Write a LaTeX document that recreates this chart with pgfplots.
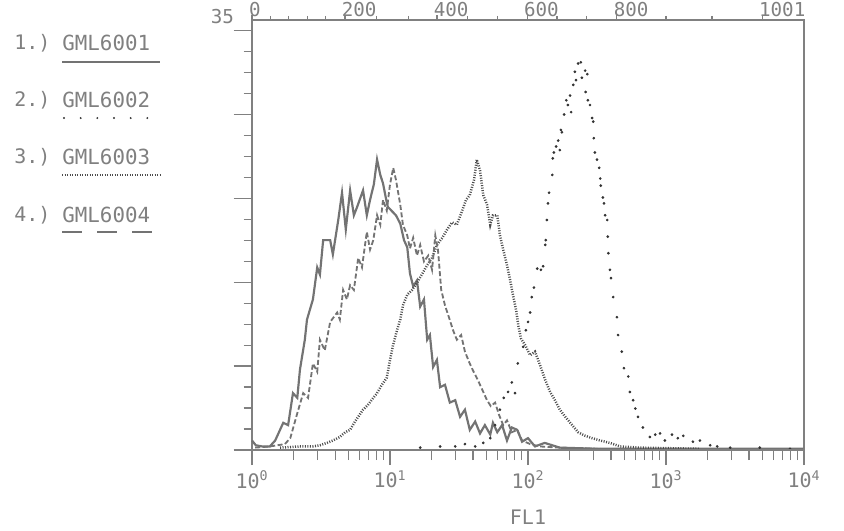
\documentclass[border=0pt]{standalone}
\usepackage{fontspec}
\setmainfont{DejaVu Sans Mono}
\usepackage{pgfplots}
\usepackage{pgfplotstable}
\pgfplotsset{compat=1.18}
\definecolor{ink}{gray}{0.5}
\definecolor{trace}{gray}{0.45}

% FL1 histograms, x = channel (0-1023), y = events
\pgfplotstableread{
ch cnt
0 0.8
7 0.4
19 0.3
33 0.3
43 0.8
58 2.3
67 2.1
76 4.8
84 4.4
89 6.8
98 9.3
102 11.0
113 12.7
121 15.4
126 14.8
132 17.7
145 17.7
150 16.5
160 19.4
167 21.7
174 18.6
182 21.9
189 19.8
195 20.5
206 21.9
213 19.8
219 21.1
226 22.4
232 24.5
238 23.2
243 22.5
249 21.1
252 20.5
267 19.8
275 19.1
282 17.7
288 17.1
293 14.9
299 13.8
306 14.3
312 12.1
319 12.7
325 9.3
330 9.7
336 7.0
343 7.6
349 5.3
358 5.5
367 4.0
377 4.2
386 2.8
395 3.4
404 1.7
414 2.4
423 1.4
432 2.1
442 1.3
447 2.3
455 1.5
464 2.1
473 0.8
482 1.9
492 1.7
501 0.7
512 1.0
525 0.3
543 0.6
571 0.2
646 0.1
831 0.1
1023 0.1
}\gmlA

\pgfplotstableread{
ch cnt
312 0.2
349 0.3
377 0.3
395 0.5
414 0.3
429 0.6
442 1.0
451 2.1
460 3.4
467 4.4
475 4.9
482 5.7
488 4.8
493 7.3
503 8.7
508 10.1
512 10.8
516 11.6
519 12.9
523 13.7
529 15.3
536 15.2
540 15.5
544 17.3
545 17.7
547 19.4
549 20.8
551 21.7
557 23.2
558 24.6
560 25.1
564 25.6
568 26.1
571 25.3
573 27.0
575 26.8
579 28.3
583 29.5
586 29.1
590 29.9
592 28.5
596 30.8
599 31.9
601 31.2
605 32.6
610 32.7
612 31.4
618 32.0
619 30.2
622 31.7
623 29.5
627 29.1
631 28.0
633 27.7
634 26.3
636 25.1
640 24.5
644 23.8
646 22.9
647 22.3
651 21.3
653 20.8
655 19.8
659 19.4
660 18.0
661 16.6
664 15.2
666 14.5
670 12.9
677 11.2
679 9.7
686 8.3
690 6.9
698 6.2
701 4.9
707 4.2
711 3.5
716 2.8
725 1.9
738 1.1
748 1.3
757 1.4
766 0.8
779 1.3
790 1.0
800 1.2
818 0.7
831 0.8
850 0.4
863 0.3
887 0.2
942 0.2
998 0.1
}\gmlB

\pgfplotstableread{
ch cnt
52 0.2
89 0.3
113 0.3
126 0.4
139 0.6
150 0.8
163 1.1
173 1.5
182 1.7
191 2.4
200 3.0
206 3.4
215 3.8
225 4.4
232 4.8
241 5.5
250 6.1
256 7.6
262 8.9
269 10.1
275 11.0
280 12.2
288 13.1
297 13.5
306 14.1
315 14.8
325 15.6
334 16.2
343 17.3
353 17.9
362 18.6
371 19.2
380 19.0
390 20.2
397 21.1
404 21.5
412 22.8
417 24.5
423 23.6
429 21.5
436 20.7
442 19.0
447 19.8
455 19.8
460 18.1
466 16.9
473 15.6
479 14.3
484 13.1
490 11.8
494 10.5
499 9.4
506 8.9
516 8.0
525 8.3
534 7.2
544 5.9
553 4.9
562 4.2
571 3.4
583 2.7
594 2.1
605 1.5
618 1.2
631 1.0
646 0.8
664 0.6
683 0.3
720 0.2
831 0.1
}\gmlC

\pgfplotstableread{
ch cnt
6 0.2
33 0.3
61 0.5
71 1.0
84 3.1
95 4.8
104 4.4
113 7.3
121 6.6
126 9.3
135 8.4
145 10.8
158 11.6
163 11.0
169 13.5
176 12.7
182 13.9
189 13.5
197 16.2
204 15.4
213 18.4
219 16.9
225 17.7
232 19.8
238 19.0
243 21.1
250 20.2
256 22.4
262 23.8
267 22.8
275 20.7
280 19.0
288 18.1
293 17.0
299 17.9
306 16.4
312 17.3
319 15.9
327 16.4
334 15.2
340 18.1
345 16.9
351 13.5
358 12.2
366 11.1
373 10.1
380 9.3
388 9.7
395 8.3
403 7.4
410 6.7
419 5.9
427 5.1
436 4.2
443 3.7
451 4.0
458 3.0
466 2.1
473 2.5
482 1.5
492 1.7
501 0.8
516 0.5
534 0.3
571 0.2
646 0.1
}\gmlD

\begin{document}
\begin{tikzpicture}[x=0.6pt,y=0.6pt, font=\fontsize{12}{14}\selectfont]
\useasboundingbox (0,0) rectangle (844,530);

% data axis: channel scale, y ticks on the left
\begin{axis}[
  at={(151.2pt,48pt)}, anchor=south west,
  scale only axis, width=331.2pt, height=258pt,
  xmin=0, xmax=1024, ymin=0, ymax=36.27,
  axis line style={ink, line width=0.9pt},
  xtick=\empty,
  ytick={0,7.08,14.16,21.24,28.32,35.4}, yticklabels={},
  minor y tick num=3,
  ytick pos=left, tick align=outside,
  major tick length=11pt, minor tick length=5pt,
  tick style={ink, line width=0.7pt},
  clip=false,
]
\addplot[trace, line width=1.3pt] table[x=ch, y=cnt] {\gmlA};
\addplot[black!80, only marks, mark=*, mark size=0.6pt] table[x=ch, y=cnt] {\gmlB};
\addplot[black!70, line width=1.5pt, dash pattern=on 0.6pt off 0.9pt] table[x=ch, y=cnt] {\gmlC};
\addplot[trace, line width=1.1pt, dash pattern=on 3pt off 1.5pt] table[x=ch, y=cnt] {\gmlD};
\end{axis}

% top channel axis (label positions as printed)
\begin{axis}[
  at={(151.2pt,48pt)}, anchor=south west,
  scale only axis, width=331.2pt, height=258pt,
  xmin=0, xmax=1200, ymin=0, ymax=1,
  hide y axis, axis x line*=top,
  axis line style={ink, line width=0.9pt},
  xtick={0,202,402,598,793,1109},
  xticklabels={0,200,400,600,800,1001},
  minor xtick={40,80,120,160,270,340,468,534,663,728,900,1000},
  xtick pos=right, xticklabel pos=right, tick align=outside,
  major tick length=3pt, minor tick length=2.5pt,
  tick style={ink, line width=0.7pt},
  xticklabel style={ink, anchor=south west, inner sep=0pt, xshift=-2pt, yshift=-1.5pt,
    font=\fontsize{11.5}{13}\selectfont},
]
\end{axis}

% bottom log axis
\begin{axis}[
  at={(151.2pt,48pt)}, anchor=south west,
  scale only axis, width=331.2pt, height=258pt,
  xmode=log, xmin=1, xmax=10000, ymin=0, ymax=1,
  hide y axis, axis x line*=bottom,
  axis line style={ink, line width=0.9pt},
  xtick={1,10,100,1000,10000},
  xticklabels={10\textsuperscript{0},10\textsuperscript{1},10\textsuperscript{2},10\textsuperscript{3},10\textsuperscript{4}},
  xtick pos=left, tick align=outside,
  major tick length=9pt, minor tick length=6pt,
  tick style={ink, line width=0.7pt},
  xticklabel style={ink, font=\fontsize{12}{14}\selectfont},
]
\end{axis}

\node[ink] at (528,13) {FL1};
\node[ink, anchor=west, font=\fontsize{11.5}{13}\selectfont] at (205,513) {35};

% legend
\foreach \i/\n/\yy in {1/GML6001/487, 2/GML6002/430, 3/GML6003/373, 4/GML6004/315}{
  \node[ink, anchor=west, inner sep=0pt] at (14,\yy) {\i.)};
  \node[ink, anchor=west, inner sep=0pt, font=\fontsize{12.5}{14}\selectfont] at (62,\yy) {\n};
}
\draw[trace, line width=1.0pt] (62,468) -- (160,468);
\draw[black!80, line width=1.3pt, line cap=round, dash pattern=on 0pt off 10pt] (64,412) -- (150,412);
\draw[black!70, line width=1.3pt, dash pattern=on 0.6pt off 0.9pt] (62,355) -- (160,355);
\draw[trace, line width=1.1pt, dash pattern=on 12pt off 9pt] (62,298) -- (160,298);
\end{tikzpicture}
\end{document}
